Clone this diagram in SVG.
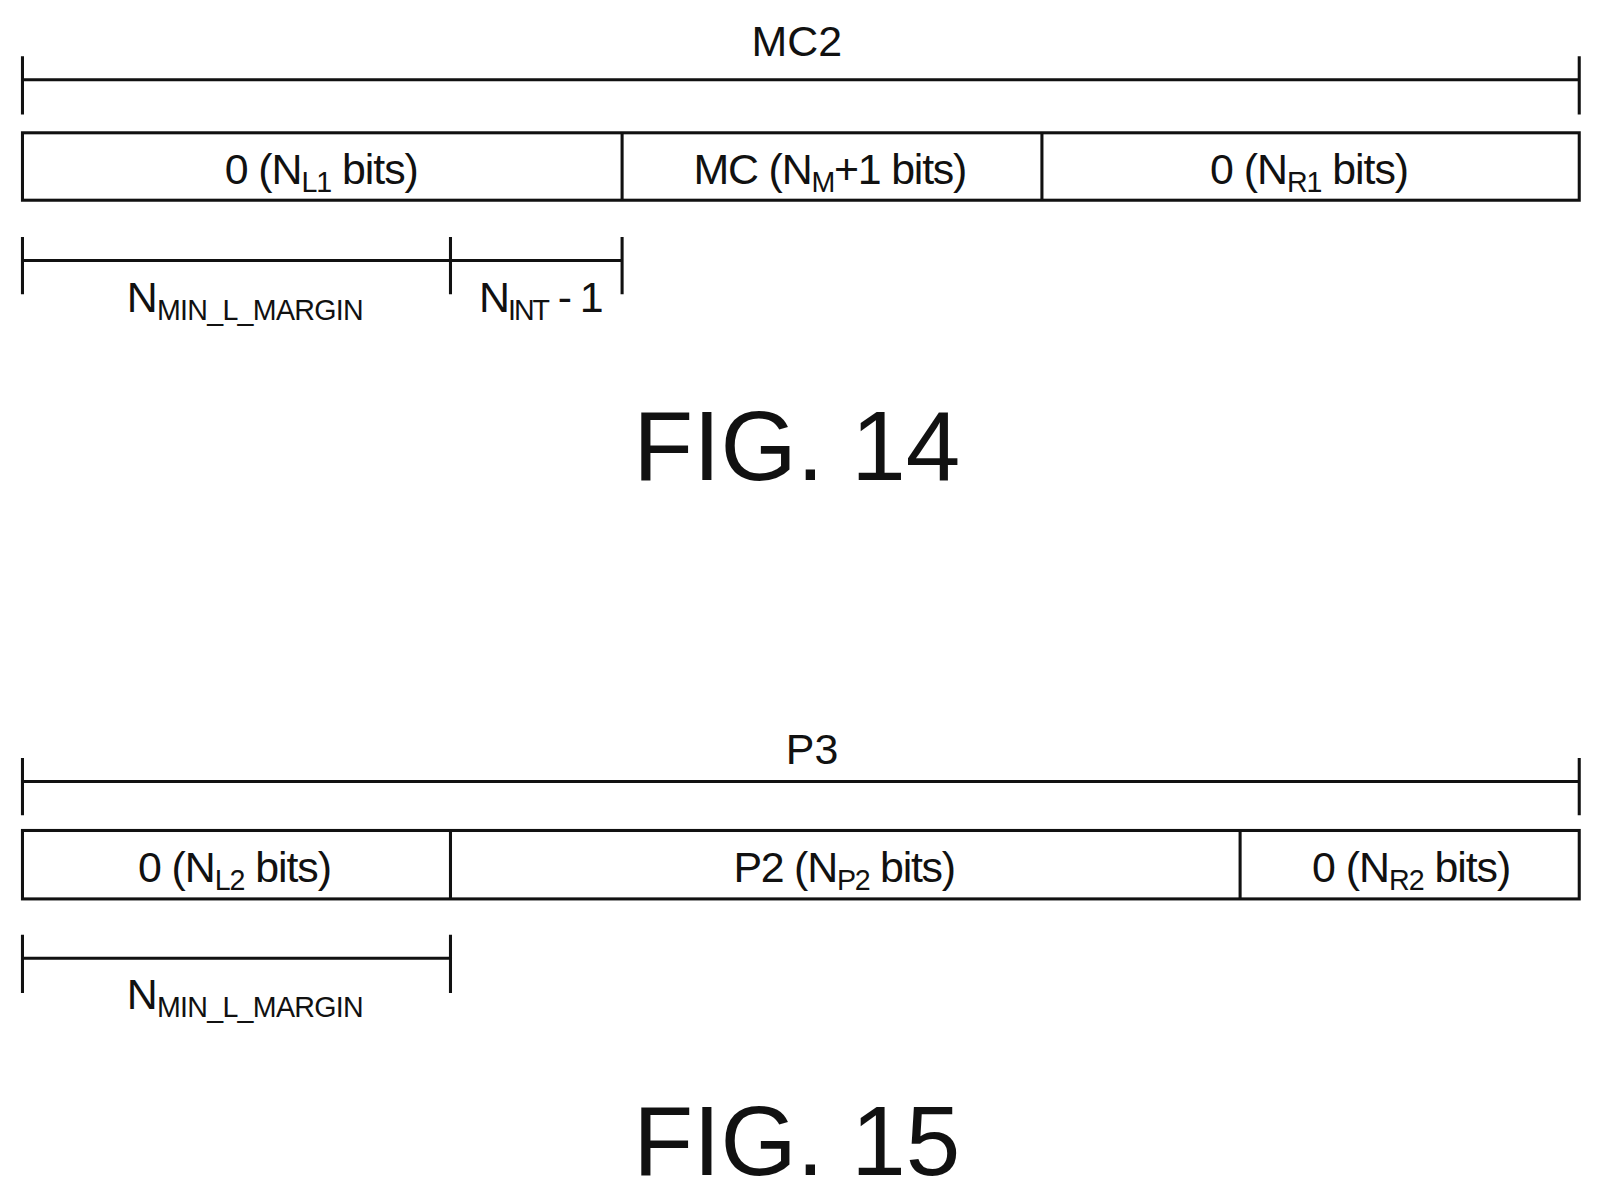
<svg xmlns="http://www.w3.org/2000/svg" width="1602" height="1198" viewBox="0 0 1602 1198">
<style>
.l{stroke:#111;stroke-width:3;fill:none}
text{font-family:"Liberation Sans",Arial,sans-serif;fill:#111;text-anchor:middle}
.t{font-size:42px}
.s{font-size:28px}
.f{font-size:96px}
</style>
<rect width="1602" height="1198" fill="#fff"/>
<g transform="scale(1.0215)">
<g id="connectors">
<path class="l" d="M22 78H1546M22 55V112M1546 55V112"/>
<path class="l" d="M22 255H609M22 232V288M441 232V288M609 232V288"/>
<path class="l" d="M22 765H1546M22 742V798M1546 742V798"/>
<path class="l" d="M22 938H441M22 915V972M441 915V972"/>
</g>
<g id="fig14">
<text class="t" x="780" y="55">MC2</text>
<rect class="l" x="22" y="130" width="1524" height="66"/>
<path class="l" d="M609 130V196M1020 130V196"/>
<text class="t" x="315" y="180" textLength="190">0 (N<tspan class="s" dy="8">L1</tspan><tspan dy="-8"> bits)</tspan></text>
<text class="t" x="813" y="180" textLength="268">MC (N<tspan class="s" dy="8">M</tspan><tspan dy="-8">+1 bits)</tspan></text>
<text class="t" x="1282" y="180" textLength="195">0 (N<tspan class="s" dy="8">R1</tspan><tspan dy="-8"> bits)</tspan></text>
<text class="t" x="240" y="305" textLength="232">N<tspan class="s" dy="8">MIN_L_MARGIN</tspan></text>
<text class="t" x="530" y="305" textLength="122">N<tspan class="s" dy="8">INT</tspan><tspan dy="-8"> - 1</tspan></text>
<text class="f" x="780" y="470">FIG. 14</text>
</g>
<g id="fig15">
<text class="t" x="795" y="748">P3</text>
<rect class="l" x="22" y="813" width="1524" height="67"/>
<path class="l" d="M441 813V880M1214 813V880"/>
<text class="t" x="230" y="863" textLength="190">0 (N<tspan class="s" dy="8">L2</tspan><tspan dy="-8"> bits)</tspan></text>
<text class="t" x="827" y="863" textLength="218">P2 (N<tspan class="s" dy="8">P2</tspan><tspan dy="-8"> bits)</tspan></text>
<text class="t" x="1382" y="863" textLength="195">0 (N<tspan class="s" dy="8">R2</tspan><tspan dy="-8"> bits)</tspan></text>
<text class="t" x="240" y="988" textLength="232">N<tspan class="s" dy="8">MIN_L_MARGIN</tspan></text>
<text class="f" x="780" y="1150">FIG. 15</text>
</g>
</g>
</svg>
